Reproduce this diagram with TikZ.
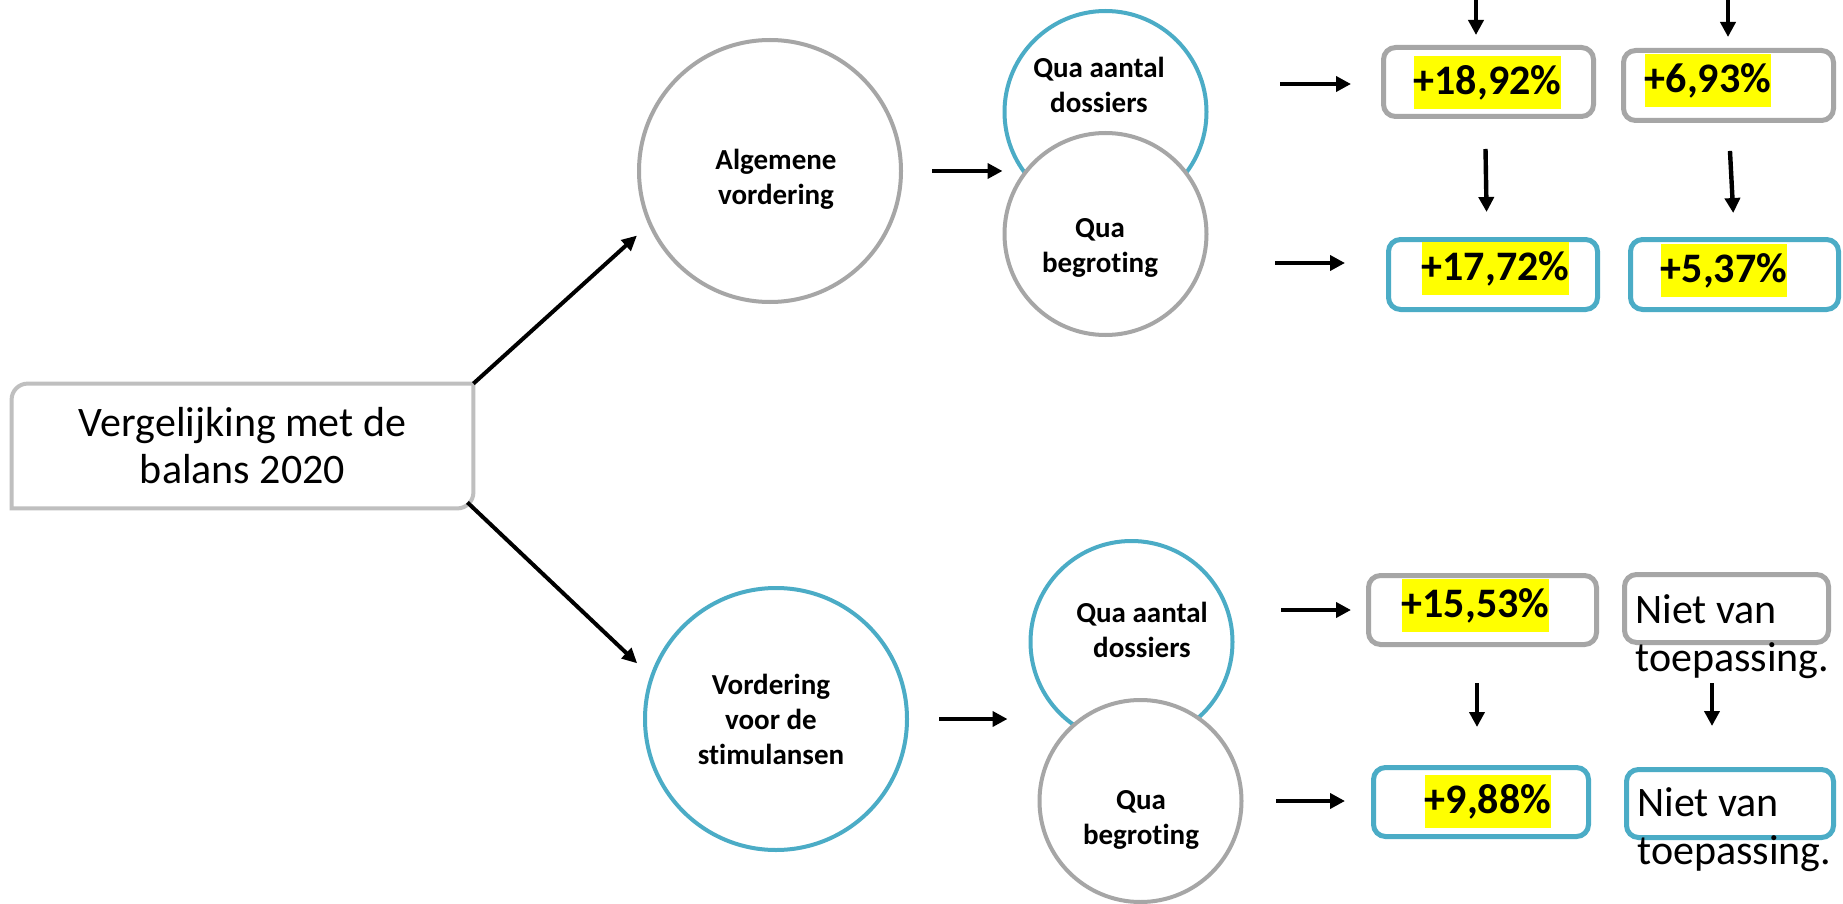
\documentclass[tikz,border=0pt]{standalone}
\usepackage{fontspec}
\setmainfont{Carlito}[Ligatures=NoCommon]
\usetikzlibrary{arrows.meta,calc}
\definecolor{cgray}{HTML}{A6A6A6}
\definecolor{cblue}{HTML}{4BACC6}
\definecolor{cmain}{HTML}{BFBFBF}
\definecolor{hl}{HTML}{FFFF00}
\tikzset{
  bigcirc/.style={circle, draw=#1, line width=2pt, fill=white, minimum size=131pt, inner sep=0pt},
  smallcirc/.style={circle, draw=#1, line width=2pt, fill=white, minimum size=101pt, inner sep=0pt},
  ctext/.style={font=\fontsize{14.5}{17.5}\selectfont\bfseries, align=center, inner sep=0pt},
  valbox/.style={draw=#1, line width=2.5pt, fill=white, rounded corners=6pt, inner sep=0pt},
  hltext/.style={fill=hl, font=\fontsize{21}{25}\selectfont\bfseries, inner xsep=0pt, inner ysep=0pt, minimum height=26.5pt},
  nvtext/.style={font=\fontsize{21}{24}\selectfont, align=left, inner sep=0pt, anchor=north west},
  arr/.style={line width=2.2pt, -{Triangle[length=7.5pt,width=7.5pt]}},
  darr/.style={line width=2pt, -{Triangle[length=7.5pt,width=7pt]}},
}
\begin{document}
\begin{tikzpicture}[x=0.5pt,y=-0.5pt]
\useasboundingbox (0,0) rectangle (1843,904);
\fill[white] (0,0) rectangle (1843,904);

% main box
\node[minimum width=230.5pt, minimum height=62pt, inner sep=0pt, align=center,
      font=\fontsize{21}{23.5}\selectfont] (m) at (242.5,446) {Vergelijking met de\\balans 2020};
\draw[cmain, line width=2pt]
  (m.south west) -- ([yshift=-8pt]m.north west)
  .. controls ([yshift=-3.6pt]m.north west) and ([xshift=3.6pt]m.north west) .. ([xshift=8pt]m.north west)
  -- (m.north east) -- ([yshift=8pt]m.south east)
  .. controls ([yshift=3.6pt]m.south east) and ([xshift=-3.6pt]m.south east) .. ([xshift=-8pt]m.south east)
  -- cycle;

% circles
\node[bigcirc=cgray] (alg) at (770,171) {};
\node[ctext] (algt) at (776,179) {Algemene\\vordering};
\node[smallcirc=cblue] (qa1) at (1105.5,112) {};
\node[ctext] (qa1t) at (1099,84.5) {Qua aantal\\dossiers};
\node[smallcirc=cgray] (qb1) at (1105.5,234) {};
\node[ctext] (qb1t) at (1100,248) {Qua\\begroting};

\node[bigcirc=cblue] (vord) at (776,719) {};
\node[ctext] (vordt) at (771,719) {Vordering\\voor de\\stimulansen};
\node[smallcirc=cblue] (qa2) at (1131.5,642) {};
\node[ctext] (qa2t) at (1142,630) {Qua aantal\\dossiers};
\node[smallcirc=cgray] (qb2) at (1140.5,801) {};
\node[ctext] (qb2t) at (1141,820) {Qua\\begroting};

% value boxes
\node[valbox=cgray, minimum width=105pt, minimum height=34.5pt] (b1) at (1488.5,82) {};
\node[valbox=cgray, minimum width=105pt, minimum height=35pt] (b2) at (1728.5,85.5) {};
\node[valbox=cblue, minimum width=104.5pt, minimum height=35pt] (b3) at (1493,274.5) {};
\node[valbox=cblue, minimum width=104pt, minimum height=35pt] (b4) at (1734.5,274.5) {};
\node[valbox=cgray, minimum width=114pt, minimum height=34.5pt] (b5) at (1482.5,610) {};
\node[valbox=cgray, minimum width=102pt, minimum height=34pt] (b6) at (1726.5,608.5) {};
\node[valbox=cblue, minimum width=107.5pt, minimum height=34.5pt] (b7) at (1481,802) {};
\node[valbox=cblue, minimum width=103.5pt, minimum height=34pt] (b8) at (1730,803.5) {};

\node[hltext] (h1) at (1487.5,82.5) {+18,92\%};
\node[hltext] (h2) at (1708,80.5) {+6,93\%};
\node[hltext] (h3) at (1495.5,268.5) {+17,72\%};
\node[hltext] (h4) at (1724,270.5) {+5,37\%};
\node[hltext] (h5) at (1475.5,605.5) {+15,53\%};
\node[hltext] (h7) at (1488,801.5) {+9,88\%};

\node[nvtext] (n6) at (1635,594) {Niet van\\toepassing.};
\node[nvtext] (n8) at (1637,787) {Niet van\\toepassing.};

% diagonal arrows
\draw[darr, shorten >=7.8pt] (m.north east) -- (alg.204);
\draw[darr, shorten >=9pt] ([xshift=-3pt,yshift=3pt]m.south east) -- (vord.161.6);

% circle -> circle pair
\draw[arr, shorten <=14.5pt] (alg.east) -- (alg.east -| qb1.west);
\draw[arr, shorten <=15pt, shorten >=10.5pt] (vord.east) -- (vord.east -| qa2.west);

% circle -> boxes
\draw[arr] ($(b1.west)+(-101,2)$) -- ($(b1.west)+(-30,2)$);
\draw[arr] ($(b3.west)+(-111,-11.5)$) -- ($(b3.west)+(-41,-11.5)$);
\draw[arr] ($(b5.west)+(-85,0)$) -- ($(b5.west)+(-15,0)$);
\draw[arr] ($(b7.west)+(-95,-1)$) -- ($(b7.west)+(-26,-1)$);

% vertical arrows
\coordinate (top1) at (1476,-10);
\coordinate (top2) at (1728,-10);
\draw[arr, shorten >=5pt] (top1) -- (top1 |- b1.north);
\draw[arr, shorten >=5.5pt] (top2) -- (top2 |- b2.north);
\draw[arr, shorten <=15pt, shorten >=12.5pt] ($(b1.south)+(-3.5,0)$) -- ($(b3.north)+(-6,0)$);
\draw[arr, shorten <=14pt, shorten >=12pt] (b2.south) -- (b4.north);
\draw[arr, shorten <=18pt, shorten >=19pt] ($(b5.south)+(-5.5,0)$) -- ($(b7.north)+(-4,0)$);
\draw[arr, shorten <=19pt, shorten >=20.5pt] ($(b6.south)+(-14.5,0)$) -- ($(b8.north)+(-18,0)$);
\end{tikzpicture}
\end{document}
